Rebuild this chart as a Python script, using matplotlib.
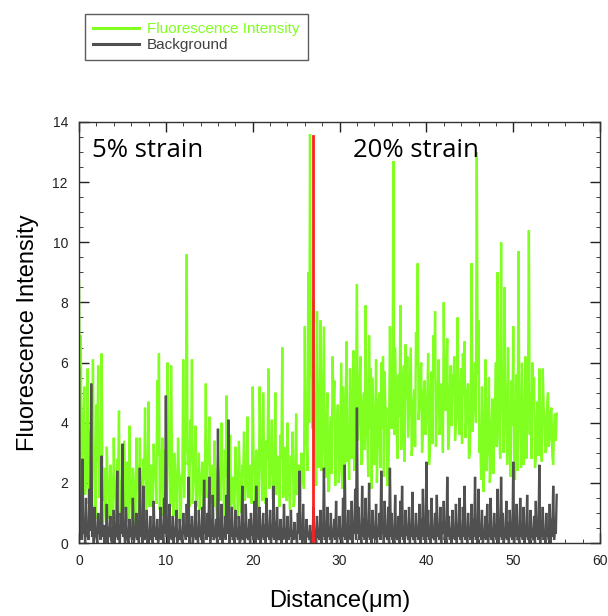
import numpy as np
import matplotlib
matplotlib.use("Agg")
import matplotlib.pyplot as plt
from matplotlib.lines import Line2D

step = 0.1
fluor = [
    8.7, 3.0, 6.9, 1.4, 3.5, 4.0, 5.2, 1.6, 2.1, 3.3,
    5.8, 1.3, 1.5, 3.6, 3.9, 1.0, 6.1, 2.9, 2.4, 0.8,
    4.6, 2.7, 5.9, 1.5, 1.8, 3.0, 6.3, 1.4, 2.2, 2.5,
    1.2, 0.7, 3.2, 2.0, 1.9, 0.8, 2.6, 2.1, 1.0, 0.6,
    3.5, 1.8, 1.6, 0.8, 2.8, 2.2, 4.4, 0.9, 1.3, 2.0,
    2.2, 1.1, 3.4, 2.1, 0.9, 1.2, 2.7, 0.7, 3.9, 1.9,
    1.4, 0.8, 2.5, 1.9, 1.1, 0.6, 3.5, 2.2, 2.0, 0.9,
    3.5, 1.9, 1.2, 0.7, 2.8, 2.1, 4.5, 0.9, 1.5, 2.4,
    4.7, 1.2, 2.0, 2.6, 1.2, 1.4, 3.3, 2.2, 2.4, 1.3,
    5.4, 2.9, 6.3, 1.1, 1.8, 2.7, 3.5, 0.9, 2.6, 3.1,
    1.5, 1.0, 6.0, 2.8, 2.9, 1.2, 5.9, 3.0, 1.7, 0.9,
    3.0, 2.2, 1.4, 0.8, 3.5, 2.4, 2.2, 0.7, 1.9, 2.3,
    6.1, 1.5, 3.2, 3.0, 9.6, 2.6, 2.8, 1.2, 4.1, 2.7,
    6.1, 1.3, 2.1, 2.3, 3.9, 1.2, 1.6, 2.0, 3.0, 1.1,
    1.8, 2.2, 2.7, 1.2, 1.3, 2.4, 5.3, 1.5, 3.2, 2.6,
    4.2, 1.3, 1.5, 2.2, 2.6, 1.2, 3.4, 2.1, 1.2, 0.8,
    2.5, 2.0, 1.8, 1.4, 4.0, 2.5, 2.2, 0.9, 3.1, 2.2,
    4.9, 1.5, 1.6, 2.4, 3.6, 1.2, 2.0, 2.2, 1.4, 1.1,
    3.2, 2.3, 1.9, 0.8, 3.4, 2.4, 1.3, 1.0, 2.6, 2.2,
    3.7, 1.4, 1.8, 2.5, 4.2, 1.5, 2.3, 2.6, 1.5, 1.3,
    5.2, 2.8, 2.4, 1.2, 3.1, 2.7, 1.6, 1.1, 5.2, 3.0,
    2.7, 1.4, 5.0, 2.9, 1.9, 1.3, 3.4, 2.8, 5.8, 1.8,
    2.3, 2.7, 4.1, 1.5, 1.5, 2.6, 5.0, 1.6, 2.8, 2.9,
    2.0, 1.2, 3.6, 2.8, 6.5, 1.5, 1.8, 2.6, 3.2, 1.4,
    4.0, 2.6, 1.6, 1.1, 2.9, 2.5, 3.7, 1.2, 1.4, 2.3,
    4.3, 1.6, 2.3, 2.6, 1.2, 1.4, 3.0, 2.5, 2.1, 1.8,
    7.2, 3.2, 3.5, 2.4, 9.0, 4.0, 13.6, 5.5, 6.0, 3.8,
    8.1, 3.6, 4.2, 1.9, 7.7, 4.4, 2.5, 3.1, 7.4, 2.4,
    3.0, 5.1, 7.2, 2.2, 2.2, 4.0, 5.0, 1.7, 1.8, 3.6,
    4.2, 2.3, 6.2, 4.5, 5.4, 1.9, 3.0, 3.9, 4.6, 2.0,
    2.4, 4.2, 6.0, 1.8, 5.2, 3.4, 2.1, 4.6, 6.7, 2.7,
    3.5, 2.1, 5.8, 3.9, 2.8, 4.8, 6.4, 2.4, 3.1, 5.2,
    8.6, 3.4, 4.0, 5.2, 6.2, 2.6, 2.7, 4.5, 5.0, 3.1,
    7.9, 4.6, 3.4, 2.2, 6.9, 3.8, 5.8, 1.8, 5.5, 4.1,
    2.6, 3.3, 6.1, 2.0, 3.3, 4.7, 5.0, 2.5, 6.0, 3.8,
    6.2, 2.2, 5.7, 4.1, 4.5, 1.9, 2.0, 3.7, 7.2, 4.5,
    3.8, 5.0, 12.7, 3.6, 6.5, 4.9, 3.4, 2.8, 5.6, 4.2,
    7.9, 3.1, 4.0, 5.3, 5.9, 2.7, 6.6, 4.8, 6.2, 3.5,
    4.5, 5.4, 6.5, 2.9, 3.3, 4.6, 5.1, 3.2, 7.0, 5.9,
    9.3, 4.1, 4.6, 5.6, 6.0, 3.0, 3.8, 5.0, 5.4, 3.6,
    4.2, 4.8, 6.3, 2.6, 3.0, 5.1, 5.7, 3.3, 6.9, 5.5,
    7.7, 3.2, 4.5, 4.9, 6.1, 3.6, 3.9, 5.3, 5.2, 3.0,
    8.0, 4.7, 4.4, 5.8, 6.8, 3.1, 3.5, 5.0, 5.9, 3.9,
    5.6, 5.3, 6.2, 3.4, 4.0, 5.6, 7.5, 4.1, 3.6, 5.2,
    5.8, 3.3, 6.3, 4.9, 6.7, 3.5, 4.2, 5.0, 5.3, 2.8,
    3.0, 4.6, 9.3, 3.7, 4.6, 5.2, 6.0, 4.0, 13.0, 5.6,
    7.4, 3.0, 3.5, 2.1, 5.2, 2.6, 1.7, 3.8, 6.1, 2.4,
    3.0, 4.3, 5.5, 2.0, 2.4, 3.9, 4.8, 2.3, 3.6, 4.6,
    6.0, 3.2, 9.0, 4.8, 3.5, 2.8, 10.0, 4.4, 4.5, 3.0,
    8.5, 4.5, 3.8, 2.6, 6.5, 4.2, 2.9, 2.2, 5.4, 3.9,
    7.2, 2.9, 2.1, 4.3, 5.6, 2.4, 9.7, 4.6, 3.8, 2.5,
    6.0, 4.4, 2.6, 3.5, 6.2, 2.8, 4.1, 5.0, 10.4, 3.6,
    5.0, 2.8, 6.0, 4.6, 5.5, 2.5, 2.8, 4.0, 4.7, 2.9,
    5.8, 4.2, 3.0, 2.7, 5.8, 4.5, 4.2, 3.0, 3.1, 4.6,
    5.0, 3.2, 3.5, 4.4, 4.5, 2.9, 2.6, 3.9, 4.3, 3.4,
    4.3,
]
background = [
    5.8, 0.4, 1.2, 0.1, 2.8, 0.3, 0.5, 0.0, 1.5, 0.2,
    0.3, 0.1, 1.8, 0.4, 5.3, 0.2, 0.8, 0.0, 1.2, 0.3,
    0.2, 0.0, 1.0, 0.3, 0.4, 0.1, 2.9, 0.2, 0.6, 0.0,
    0.1, 0.3, 1.3, 0.0, 0.5, 0.2, 0.9, 0.1, 0.0, 0.3,
    1.1, 0.0, 0.3, 0.2, 2.4, 0.1, 0.6, 0.0, 1.0, 0.3,
    3.3, 0.2, 0.4, 0.0, 1.2, 0.3, 0.1, 0.0, 0.8, 0.2,
    0.5, 0.1, 1.5, 0.0, 0.2, 0.3, 1.0, 0.1, 0.3, 0.0,
    2.5, 0.2, 0.6, 0.0, 1.9, 0.1, 0.2, 0.3, 1.1, 0.0,
    0.4, 0.1, 0.9, 0.2, 0.1, 0.0, 1.4, 0.2, 0.5, 0.1,
    0.8, 0.0, 0.2, 0.3, 1.2, 0.1, 0.6, 0.0, 1.5, 0.3,
    4.9, 0.2, 0.7, 0.0, 1.3, 0.3, 0.2, 0.1, 0.9, 0.0,
    0.5, 0.2, 1.1, 0.0, 0.3, 0.1, 0.8, 0.2, 0.1, 0.0,
    1.0, 0.3, 0.4, 0.1, 1.3, 0.2, 2.2, 0.0, 0.6, 0.2,
    0.9, 0.0, 0.2, 0.3, 1.4, 0.1, 0.5, 0.0, 1.1, 0.2,
    0.3, 0.1, 1.2, 0.0, 2.1, 0.3, 0.6, 0.1, 1.0, 0.2,
    2.2, 0.0, 0.4, 0.2, 1.6, 0.1, 0.2, 0.3, 0.8, 0.0,
    3.8, 0.2, 0.5, 0.1, 1.3, 0.0, 0.3, 0.2, 0.9, 0.1,
    1.6, 0.3, 4.1, 0.0, 0.6, 0.2, 1.2, 0.1, 0.2, 0.0,
    1.1, 0.2, 0.4, 0.1, 0.9, 0.0, 0.1, 0.3, 1.9, 0.1,
    0.6, 0.0, 1.3, 0.2, 0.2, 0.1, 0.8, 0.0, 1.0, 0.3,
    0.3, 0.1, 1.4, 0.0, 1.9, 0.2, 0.5, 0.1, 1.2, 0.0,
    0.2, 0.3, 1.0, 0.1, 0.6, 0.0, 1.5, 0.2, 0.4, 0.1,
    1.1, 0.0, 0.3, 0.2, 1.9, 0.1, 0.7, 0.0, 1.2, 0.3,
    0.1, 0.2, 0.8, 0.0, 0.5, 0.1, 1.3, 0.2, 0.2, 0.0,
    0.9, 0.1, 0.3, 0.2, 1.1, 0.0, 0.4, 0.1, 0.7, 0.2,
    0.2, 0.0, 1.0, 0.3, 2.4, 0.1, 0.5, 0.0, 1.3, 0.2,
    0.1, 0.0, 0.8, 0.2, 0.3, 0.1, 0.6, 0.0, 0.1, 0.2,
    1.2, 0.1, 0.4, 0.0, 0.9, 0.2, 0.2, 0.1, 1.1, 0.0,
    0.6, 0.2, 2.5, 0.1, 0.3, 0.0, 1.2, 0.2, 0.5, 0.1,
    1.0, 0.0, 0.2, 0.3, 0.8, 0.1, 1.4, 0.0, 0.4, 0.2,
    0.9, 0.1, 0.3, 0.0, 1.5, 0.2, 2.6, 0.1, 0.6, 0.0,
    1.1, 0.2, 0.2, 0.1, 1.4, 0.0, 0.7, 0.3, 1.8, 0.1,
    4.5, 0.3, 1.2, 0.1, 0.4, 0.0, 1.9, 0.2, 0.8, 0.1,
    1.5, 0.0, 0.3, 0.2, 2.0, 0.1, 0.6, 0.0, 1.1, 0.2,
    0.2, 0.1, 1.3, 0.0, 0.5, 0.2, 1.0, 0.1, 2.4, 0.3,
    0.7, 0.0, 1.4, 0.2, 0.3, 0.1, 1.2, 0.0, 2.5, 0.2,
    1.0, 0.1, 0.4, 0.0, 1.6, 0.2, 0.2, 0.1, 0.9, 0.0,
    1.4, 0.2, 1.9, 0.1, 0.5, 0.0, 1.1, 0.3, 0.3, 0.1,
    1.2, 0.0, 0.6, 0.2, 1.7, 0.1, 0.2, 0.0, 1.0, 0.2,
    0.4, 0.1, 1.3, 0.0, 0.8, 0.2, 1.8, 0.1, 0.3, 0.0,
    2.7, 0.2, 1.1, 0.1, 0.5, 0.0, 1.5, 0.2, 0.2, 0.1,
    1.0, 0.0, 1.6, 0.2, 0.4, 0.1, 1.2, 0.0, 0.7, 0.3,
    1.4, 0.1, 0.3, 0.0, 2.2, 0.2, 0.9, 0.1, 0.5, 0.0,
    1.1, 0.2, 0.2, 0.1, 1.3, 0.0, 0.6, 0.2, 1.5, 0.1,
    0.4, 0.0, 1.2, 0.2, 1.9, 0.1, 0.5, 0.0, 1.0, 0.2,
    0.3, 0.1, 1.3, 0.0, 0.8, 0.2, 2.2, 0.1, 0.6, 0.0,
    1.8, 0.2, 0.4, 0.1, 1.1, 0.0, 0.2, 0.2, 0.9, 0.1,
    1.3, 0.0, 0.5, 0.2, 1.5, 0.1, 0.3, 0.0, 1.0, 0.2,
    0.6, 0.1, 1.8, 0.0, 0.4, 0.2, 2.2, 0.1, 1.0, 0.0,
    0.2, 0.2, 1.4, 0.1, 0.7, 0.0, 1.1, 0.2, 0.3, 0.1,
    2.7, 0.0, 0.8, 0.2, 1.3, 0.1, 0.2, 0.0, 1.5, 0.2,
    0.6, 0.1, 1.2, 0.0, 0.3, 0.2, 1.6, 0.1, 0.5, 0.0,
    1.1, 0.2, 0.2, 0.1, 0.9, 0.0, 1.4, 0.2, 0.4, 0.1,
    2.6, 0.0, 0.7, 0.2, 1.2, 0.1, 0.3, 0.0, 1.0, 0.2,
    0.5, 0.1, 1.3, 0.0, 0.8, 0.2, 1.9, 0.1, 0.6, 0.3,
    1.6,
]
distance = [round(i * step, 2) for i in range(len(fluor))]
divider_x = [26.9, 26.9]
divider_y = [0, 13.55]
x_ticks = [0, 10, 20, 30, 40, 50, 60]
y_ticks = [0, 2, 4, 6, 8, 10, 12, 14]

GREEN = "#80ff20"
DARK = "#505050"
RED = "#ff2020"

fig = plt.figure(figsize=(6.08, 6.16), dpi=100)
ax = fig.add_axes([0.130, 0.1185, 0.857, 0.6835])

ax.plot(distance, fluor, color=GREEN, lw=1.7, solid_joinstyle="miter")
ax.plot(distance, background, color=DARK, lw=1.7, solid_joinstyle="miter")
ax.plot(divider_x, divider_y, color=RED, lw=2.0)

ax.set_xlim(0, 60)
ax.set_ylim(0, 14)
ax.set_xticks(x_ticks)
ax.set_yticks(y_ticks)
ax.set_xticks(np.arange(0, 61, 2), minor=True)
ax.set_yticks(np.arange(0, 14.1, 0.5), minor=True)
ax.tick_params(which="major", direction="in", length=7, width=1, top=True, right=True,
               labelsize=10, pad=8, colors="#222222")
ax.tick_params(which="minor", direction="in", length=3, width=0.6, top=True, right=True,
               colors="#222222")
for lbl in ax.get_xticklabels() + ax.get_yticklabels():
    lbl.set_family("Liberation Sans")
for s in ax.spines.values():
    s.set_color("#333333")
    s.set_linewidth(1.0)

ax.set_xlabel("Distance(\u03bcm)", fontsize=17, family="Liberation Sans", labelpad=16)
ax.set_ylabel("Fluorescence Intensity", fontsize=17, family="Liberation Sans", labelpad=10)

ax.text(1.5, 13.05, "5% strain", fontsize=18.5, family="Open Sans", va="center", ha="left")
ax.text(31.5, 13.05, "20% strain", fontsize=18.5, family="Open Sans", va="center", ha="left")

handles = [Line2D([], [], color=GREEN, lw=2.2), Line2D([], [], color=DARK, lw=2.2)]
leg = fig.legend(handles, ["Fluorescence Intensity", "Background"],
                 loc="upper left", bbox_to_anchor=(85 / 608, 1 - 14 / 616),
                 prop={"family": "Liberation Sans", "size": 11},
                 frameon=True, fancybox=False, edgecolor="#333333",
                 handlelength=3.0, handletextpad=0.5, labelspacing=0.1,
                 borderpad=0.55, borderaxespad=0)
leg.get_frame().set_linewidth(1.0)
leg.get_texts()[0].set_color(GREEN)
leg.get_texts()[1].set_color("#404040")

fig.savefig("out.png", dpi=100)
